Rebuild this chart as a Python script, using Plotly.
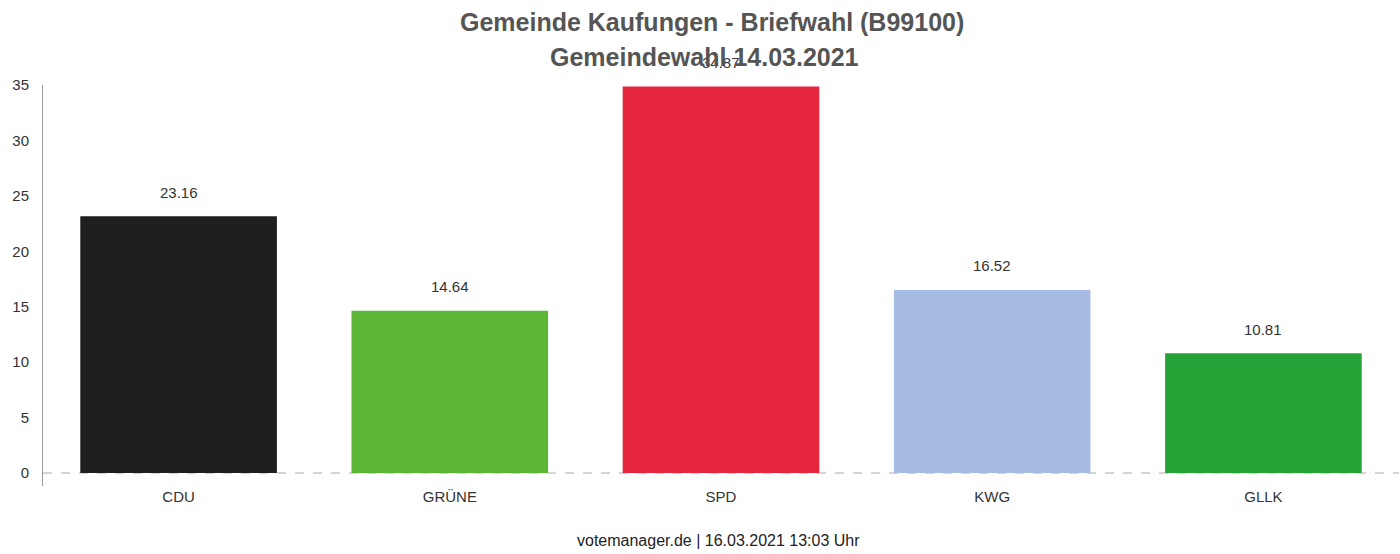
import plotly.graph_objects as go

parties = ["CDU", "GRÜNE", "SPD", "KWG", "GLLK"]
shares = [23.16, 14.64, 34.87, 16.52, 10.81]
colors = ["#1e1f21", "#5cb535", "#e6263f", "#a6bce2", "#27a236"]
y_ticks = [0, 5, 10, 15, 20, 25, 30, 35]

title_line1 = "Gemeinde Kaufungen - Briefwahl (B99100)"
title_line2 = "Gemeindewahl 14.03.2021"
footer = "votemanager.de | 16.03.2021 13:03 Uhr"

FONT = "Liberation Sans, Arial, sans-serif"

fig = go.Figure(go.Bar(
    x=parties, y=shares, marker=dict(color=colors, line=dict(width=0)),
    hoverinfo="x+y",
))

for p, v in zip(parties, shares):
    fig.add_annotation(x=p, y=v, text=f"{v:.2f}", showarrow=False,
                       yshift=24, font=dict(size=15, color="#333333", family=FONT))

fig.add_annotation(xref="paper", yref="paper", x=0.493, y=1.157, text=f"<b>{title_line1}</b>",
                   showarrow=False, font=dict(size=25, color="#555555", family=FONT),
                   yanchor="middle")
fig.add_annotation(xref="paper", yref="paper", x=0.488, y=1.070, text=f"<b>{title_line2}</b>",
                   showarrow=False, font=dict(size=25, color="#555555", family=FONT),
                   yanchor="middle")
fig.add_annotation(xref="paper", yref="paper", x=0.498, y=-0.137, text=footer,
                   showarrow=False, font=dict(size=16, color="#222222", family=FONT),
                   yanchor="middle")

fig.add_shape(type="line", xref="paper", yref="y", x0=0, x1=1, y0=0, y1=0,
              line=dict(color="#aaaaaa", width=1, dash="dash"), layer="below")

fig.update_layout(
    width=1400, height=554,
    margin=dict(l=43, r=1, t=85, b=68, autoexpand=False),
    plot_bgcolor="white", paper_bgcolor="white",
    bargap=0.275, showlegend=False,
    font=dict(family=FONT, size=15, color="#333333"),
)
fig.update_xaxes(showgrid=False, showline=False, ticks="", automargin=False,
                 tickfont=dict(size=15, color="#333333"))
fig.update_yaxes(range=[-1.17, 35], tickvals=y_ticks, showgrid=False, zeroline=False,
                 showline=True, linecolor="#999999", linewidth=1, ticks="", automargin=False,
                 ticklabelstandoff=10, tickfont=dict(size=15, color="#333333"))

fig.write_html("out.html", config={"displayModeBar": False},
               post_script="document.body.style.margin='0';document.body.style.overflow='hidden';")
